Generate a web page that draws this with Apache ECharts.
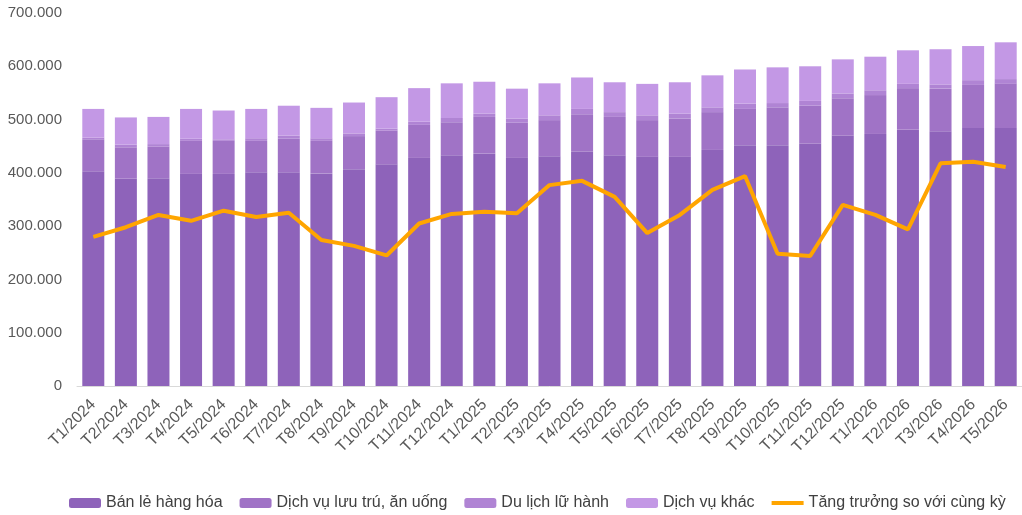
<!DOCTYPE html>
<html>
<head>
<meta charset="utf-8">
<script src="https://cdn.jsdelivr.net/npm/echarts@6/dist/echarts.min.js"></script>
<style>
  html, body { margin: 0; padding: 0; background: #fff; }
  #chart { width: 1022px; height: 515px; }
</style>
</head>
<body>
<div id="chart"></div>
<script>
// tháng
const months = ['T1/2024','T2/2024','T3/2024','T4/2024','T5/2024','T6/2024','T7/2024','T8/2024','T9/2024','T10/2024','T11/2024','T12/2024',
  'T1/2025','T2/2025','T3/2025','T4/2025','T5/2025','T6/2025','T7/2025','T8/2025','T9/2025','T10/2025','T11/2025','T12/2025',
  'T1/2026','T2/2026','T3/2026','T4/2026','T5/2026'];

// nghìn tỷ đồng (trục hiển thị x.000)
const banLe   = [403,389,390,398,398,401,401,399,407,416,428,433,436,428,431,440,433,430,430,443,452,452,455,470,473,481,478,484,484];
const luuTru  = [60,59,59,62,62,59,63,61,62,63,62,62,69,66,68,70,72,69,72,71,68,71,71,70,73,78,80,81,83];
const duLich  = [3,5,5,4,3,5,6,5,5,4,6,8,6,8,9,10,9,9,9,9,10,8,9,9,9,8,8,9,9];
const dvKhac  = [54,51,51,56,54,55,56,57,58,59,63,65,60,56,60,59,56,59,59,60,64,67,65,64,63,63,66,64,69];

// tăng trưởng so với cùng kỳ (%), trục phụ ẩn
const tangTruong = [5.6,5.96,6.42,6.2,6.58,6.34,6.5,5.48,5.26,4.9,6.1,6.46,6.54,6.48,7.54,7.7,7.1,5.74,6.42,7.36,7.88,4.96,4.88,6.8,6.42,5.88,8.36,8.42,8.22];

const yTicks = [0,100,200,300,400,500,600,700];

const font = "'Liberation Sans', Arial, sans-serif";
const chart = echarts.init(document.getElementById('chart'));

const option = {
  animation: false,
  textStyle: { fontFamily: font },
  grid: { left: 77, right: -8, top: 13, bottom: 129, containLabel: false },
  legend: {
    left: 64,
    top: 490,
    width: 958,
    itemWidth: 32,
    itemHeight: 10,
    itemGap: 17,
    textStyle: { fontSize: 16, color: '#404040', fontFamily: font },
    data: [
      'Bán lẻ hàng hóa', 'Dịch vụ lưu trú, ăn uống', 'Du lịch lữ hành', 'Dịch vụ khác',
      { name: 'Tăng trưởng so với cùng kỳ', icon: 'path://M0,0h32v4h-32z' }
    ]
  },
  xAxis: {
    type: 'category',
    data: months,
    axisLine: { lineStyle: { color: '#d9d9d9', width: 1 } },
    axisTick: { show: false },
    axisLabel: { rotate: 45, fontSize: 16, color: '#595959', margin: 16, interval: 0 }
  },
  yAxis: [
    {
      type: 'value',
      min: yTicks[0],
      max: yTicks[yTicks.length - 1],
      interval: 100,
      splitLine: { show: false },
      axisLine: { show: false },
      axisTick: { show: false },
      axisLabel: {
        fontSize: 15, color: '#595959', margin: 15,
        formatter: v => v === 0 ? '0' : v + '.000'
      }
    },
    { type: 'value', min: 0, max: 14, show: false }
  ],
  series: [
    { name: 'Bán lẻ hàng hóa', type: 'bar', stack: 'tong', barWidth: 22, data: banLe, itemStyle: { color: '#8e63ba' } },
    { name: 'Dịch vụ lưu trú, ăn uống', type: 'bar', stack: 'tong', data: luuTru, itemStyle: { color: '#a073c6' } },
    { name: 'Du lịch lữ hành', type: 'bar', stack: 'tong', data: duLich, itemStyle: { color: '#b084d4' } },
    { name: 'Dịch vụ khác', type: 'bar', stack: 'tong', data: dvKhac, itemStyle: { color: '#c398e5' } },
    {
      name: 'Tăng trưởng so với cùng kỳ', type: 'line', yAxisIndex: 1, data: tangTruong,
      symbol: 'none', lineStyle: { color: '#ffa500', width: 4 }, itemStyle: { color: '#ffa500' }, z: 5
    }
  ]
};

chart.setOption(option);
window.addEventListener('resize', function () {
  chart.resize();
});
</script>
</body>
</html>
